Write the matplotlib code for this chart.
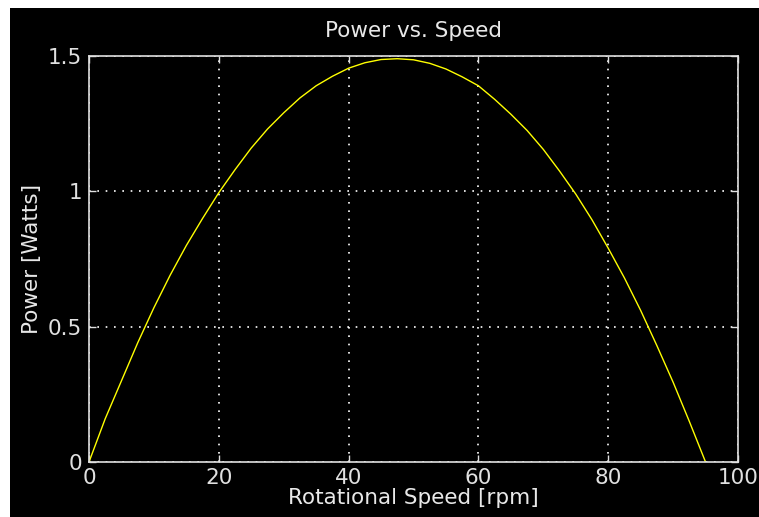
import matplotlib
matplotlib.use("Agg")
import matplotlib.pyplot as plt
from matplotlib.patches import Rectangle

speed_rpm = [0, 2.5, 5, 7.5, 10, 12.5, 15, 17.5, 20, 22.5, 25, 27.5, 30, 32.5, 35,
             37.5, 40, 42.5, 45, 47.5, 50, 52.5, 55, 57.5, 60, 62.5, 65, 67.5, 70,
             72.5, 75, 77.5, 80, 82.5, 85, 87.5, 90, 92.5, 95]
power_watts = [0.0, 0.16, 0.30, 0.44, 0.57, 0.69, 0.80, 0.90, 0.995, 1.08, 1.16, 1.23,
               1.29, 1.345, 1.39, 1.425, 1.455, 1.475, 1.487, 1.49, 1.486, 1.473, 1.452,
               1.423, 1.39, 1.34, 1.285, 1.225, 1.155, 1.075, 0.99, 0.895, 0.79, 0.68,
               0.56, 0.43, 0.295, 0.15, 0.0]
x_ticks = [0, 20, 40, 60, 80, 100]
y_ticks = [0, 0.5, 1, 1.5]
y_tick_labels = ["0", "0.5", "1", "1.5"]

plt.rcParams['font.family'] = ['DejaVu Sans']

W, H = 759, 517
fig = plt.figure(figsize=(W / 100, H / 100), dpi=100, facecolor='white')
# black canvas with thin white margin at top and left
bg = Rectangle((10 / W, 0), 1 - 10 / W, 1 - 8 / H,
               transform=fig.transFigure, facecolor='black',
               edgecolor='none', zorder=-10)
fig.add_artist(bg)

ax = fig.add_axes([89 / W, (H - 462) / H, (738 - 89) / W, (462 - 56) / H],
                  facecolor='black', zorder=1)

ax.plot(speed_rpm, power_watts, color=(1, 1, 0), linewidth=1.0)

ax.set_xlim(0, 100)
ax.set_ylim(0, 1.5)
ax.set_xticks(x_ticks)
ax.set_yticks(y_ticks)
ax.set_yticklabels(y_tick_labels)

for s in ax.spines.values():
    s.set_color('#e0e0e0')
    s.set_linewidth(1.2)

fs = 15.5
ax.tick_params(colors='#e0e0e0', direction='in', length=5, width=1,
               top=True, right=True, labelsize=fs)
ax.tick_params(axis='x', pad=4)
ax.tick_params(axis='y', pad=5)
ax.grid(True, color='white', linestyle=(0, (1, 4)), linewidth=1.2)

ax.set_title("Power vs. Speed", color='#e8e8e8', fontsize=fs, pad=14)
ax.set_xlabel("Rotational Speed [rpm]", color='#e8e8e8', fontsize=fs, labelpad=0)
ax.set_ylabel("Power [Watts]", color='#e8e8e8', fontsize=fs, labelpad=4)

fig.savefig("out.png", dpi=100, facecolor='white')
